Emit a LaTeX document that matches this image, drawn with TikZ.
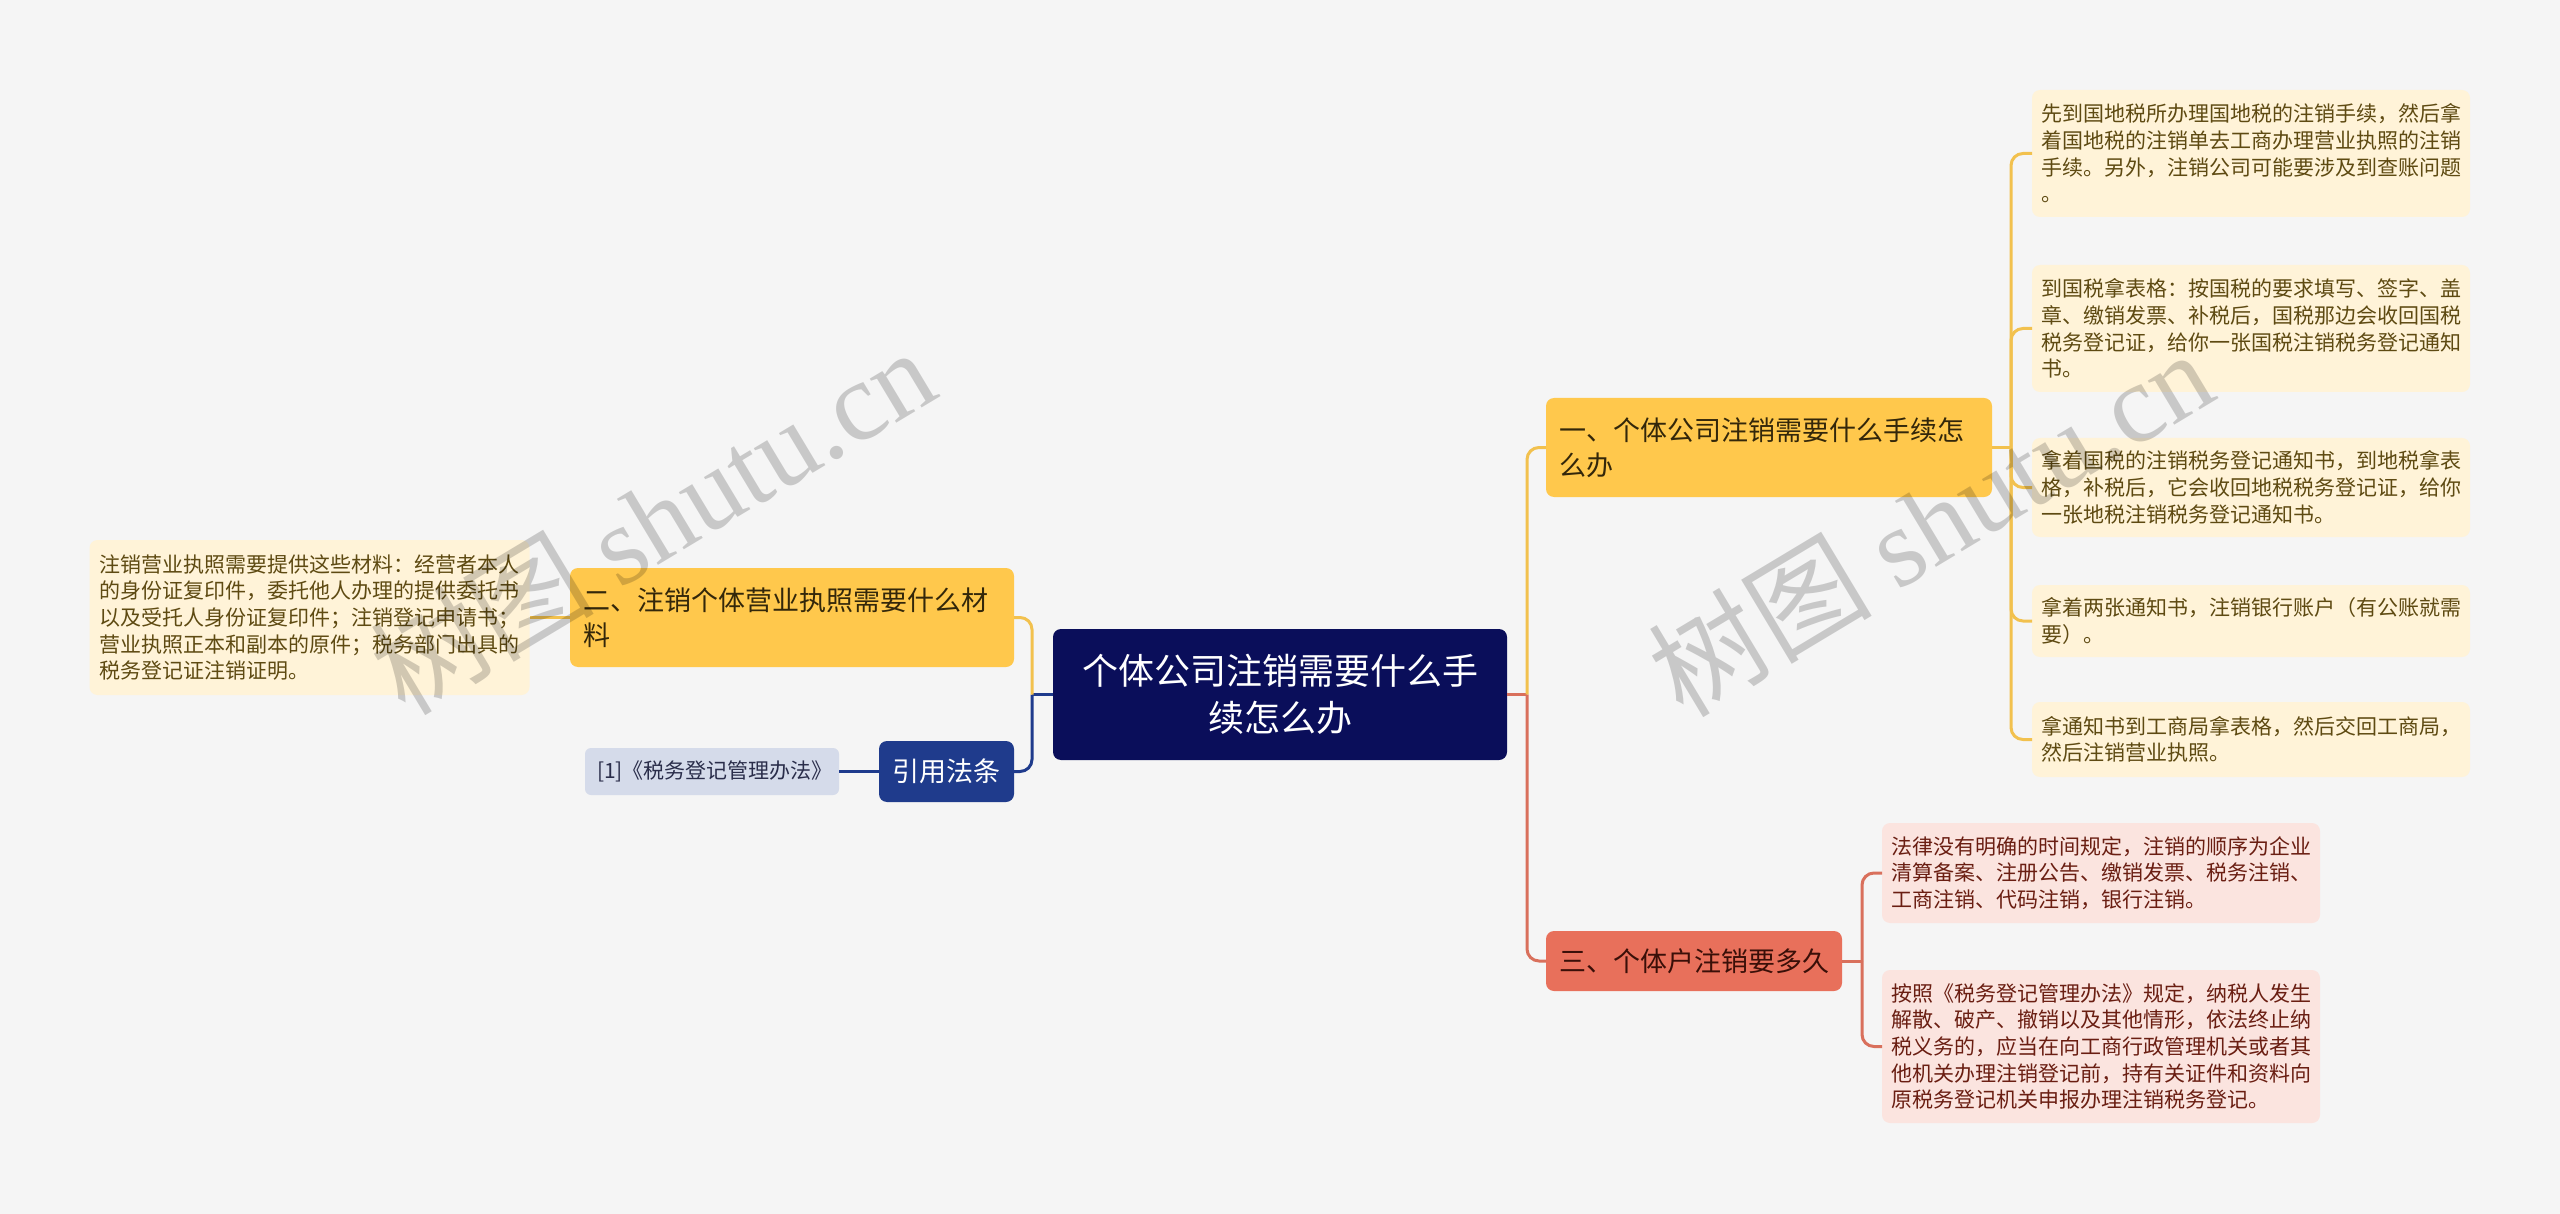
\documentclass[tikz,border=0pt]{standalone}
\usepackage{fontspec}
\setmainfont{Noto Sans CJK SC}
\newfontfamily\wmlatin{Liberation Serif}
\definecolor{bg}{HTML}{F5F5F5}
\definecolor{cnavy}{HTML}{0A0E5A}
\definecolor{citeblue}{HTML}{1F3B8C}
\definecolor{refbg}{HTML}{D5DBEA}
\definecolor{reftext}{HTML}{2A2D4A}
\definecolor{ymain}{HTML}{FFC84C}
\definecolor{ymaintext}{HTML}{33270A}
\definecolor{yleaf}{HTML}{FFF3D8}
\definecolor{yleaftext}{HTML}{5E4A12}
\definecolor{yline}{HTML}{F2C14E}
\definecolor{rmain}{HTML}{E8705B}
\definecolor{rmaintext}{HTML}{3A0F08}
\definecolor{pleaf}{HTML}{FBE4DF}
\definecolor{pleaftext}{HTML}{6A1E12}
\definecolor{rline}{HTML}{D9705C}
\begin{document}
\begin{tikzpicture}[x=1pt,y=-1pt,
  box/.style={rectangle, rounded corners=8pt, inner ysep=0pt, outer sep=0pt},
  centralbox/.style={box, fill=cnavy, text=white, align=center, text width=398pt, inner xsep=28pt,
     minimum height=131pt, font=\fontsize{36pt}{47pt}\selectfont},
  ybranch/.style={box, fill=ymain, text=ymaintext, align=left, inner xsep=13pt,
     font=\fontsize{27pt}{35pt}\selectfont},
  rbranch/.style={box, fill=rmain, text=rmaintext, align=left, inner xsep=13pt,
     font=\fontsize{27pt}{35pt}\selectfont},
  citebox/.style={box, fill=citeblue, text=white, align=center, inner xsep=13pt,
     font=\fontsize{27pt}{35pt}\selectfont},
  refbox/.style={box, rounded corners=6pt, fill=refbg, text=reftext, align=center, inner xsep=12pt,
     font=\fontsize{21pt}{27pt}\selectfont},
  yleafbox/.style={box, fill=yleaf, text=yleaftext, align=left, text width=420pt, inner xsep=9pt,
     font=\fontsize{21pt}{26.7pt}\selectfont},
  pleafbox/.style={box, fill=pleaf, text=pleaftext, align=left, text width=420pt, inner xsep=9pt,
     font=\fontsize{21pt}{26.7pt}\selectfont},
  ylink/.style={draw=yline, line width=3pt, rounded corners=12pt},
  rlink/.style={draw=rline, line width=3pt, rounded corners=12pt},
  nlink/.style={draw=citeblue, line width=3pt, rounded corners=12pt},
  watermark/.style={text=black, text opacity=0.18, rotate=31, font=\fontsize{112pt}{116pt}\selectfont}
]
\fill[bg] (0,0) rectangle (2560,1214);
\useasboundingbox (0,0) rectangle (2560,1214);

% central
\node[centralbox] (c) at (1280,694.5) {个体公司注销需要什么手\\续怎么办};

% left side
\node[ybranch, text width=418pt, minimum height=99pt] (n2) at (792,617.5) {二、注销个体营业执照需要什么材\\料};
\node[yleafbox, inner xsep=10pt, minimum height=155pt] (ll) at (309.5,617.5) {注销营业执照需要提供这些材料：经营者本人\\的身份证复印件，委托他人办理的提供委托书\\以及受托人身份证复印件；注销登记申请书；\\营业执照正本和副本的原件；税务部门出具的\\税务登记证注销证明。};
\node[citebox, text width=109pt, minimum height=61pt] (cite) at (946.5,771.5) {引用法条};
\node[refbox, text width=230pt, minimum height=47pt] (ref) at (712,771.5) {[1]《税务登记管理办法》};

% right side
\node[ybranch, text width=420pt, minimum height=99pt] (n1) at (1769,447.5) {一、个体公司注销需要什么手续怎\\么办};
\node[rbranch, text width=270pt, minimum height=60pt] (n3) at (1694,961) {三、个体户注销要多久};

\node[yleafbox, minimum height=127pt] (y1) at (2251,153.5) {先到国地税所办理国地税的注销手续，然后拿\\着国地税的注销单去工商办理营业执照的注销\\手续。另外，注销公司可能要涉及到查账问题\\。};
\node[yleafbox, minimum height=127pt] (y2) at (2251,328.5) {到国税拿表格：按国税的要求填写、签字、盖\\章、缴销发票、补税后，国税那边会收回国税\\税务登记证，给你一张国税注销税务登记通知\\书。};
\node[yleafbox, minimum height=99pt] (y3) at (2251,487.5) {拿着国税的注销税务登记通知书，到地税拿表\\格，补税后，它会收回地税税务登记证，给你\\一张地税注销税务登记通知书。};
\node[yleafbox, minimum height=72pt] (y4) at (2251,621) {拿着两张通知书，注销银行账户（有公账就需\\要）。};
\node[yleafbox, minimum height=75pt] (y5) at (2251,739.5) {拿通知书到工商局拿表格，然后交回工商局，\\然后注销营业执照。};

\node[pleafbox, minimum height=100pt] (p1) at (2101,873) {法律没有明确的时间规定，注销的顺序为企业\\清算备案、注册公告、缴销发票、税务注销、\\工商注销、代码注销，银行注销。};
\node[pleafbox, minimum height=153pt] (p2) at (2101,1046.5) {按照《税务登记管理办法》规定，纳税人发生\\解散、破产、撤销以及其他情形，依法终止纳\\税义务的，应当在向工商行政管理机关或者其\\他机关办理注销登记前，持有关证件和资料向\\原税务登记机关申报办理注销税务登记。};

% junctions
\coordinate (jl) at (1032,694.5);
\coordinate (jr) at (1527,694.5);
\coordinate (jy) at (2011,447.5);
\coordinate (jp) at (1862,961);

% left connectors
\draw[nlink] (c.west) -- (jl);
\draw[nlink] (jl) |- (cite.east);
\draw[ylink] (jl) |- (n2.east);
\draw[ylink] (n2.west) -- (ll.east);
\draw[nlink] (cite.west) -- (ref.east);

% right connectors
\draw[rlink] (c.east) -- (jr);
\draw[ylink] (jr) |- (n1.west);
\draw[rlink] (jr) |- (n3.west);
\draw[ylink] (n1.east) -- (jy);
\foreach \t in {y1,y2,y3,y4,y5} { \draw[ylink] (jy) |- (\t.west); }
\draw[rlink] (n3.east) -- (jp);
\draw[rlink] (jp) |- (p1.west);
\draw[rlink] (jp) |- (p2.west);

% watermarks
\node[watermark] (wm1) at (652,520) {树图 {\wmlatin shutu.cn}};
\node[watermark] (wm2) at (1930,522) {树图 {\wmlatin shutu.cn}};
\end{tikzpicture}
\end{document}
